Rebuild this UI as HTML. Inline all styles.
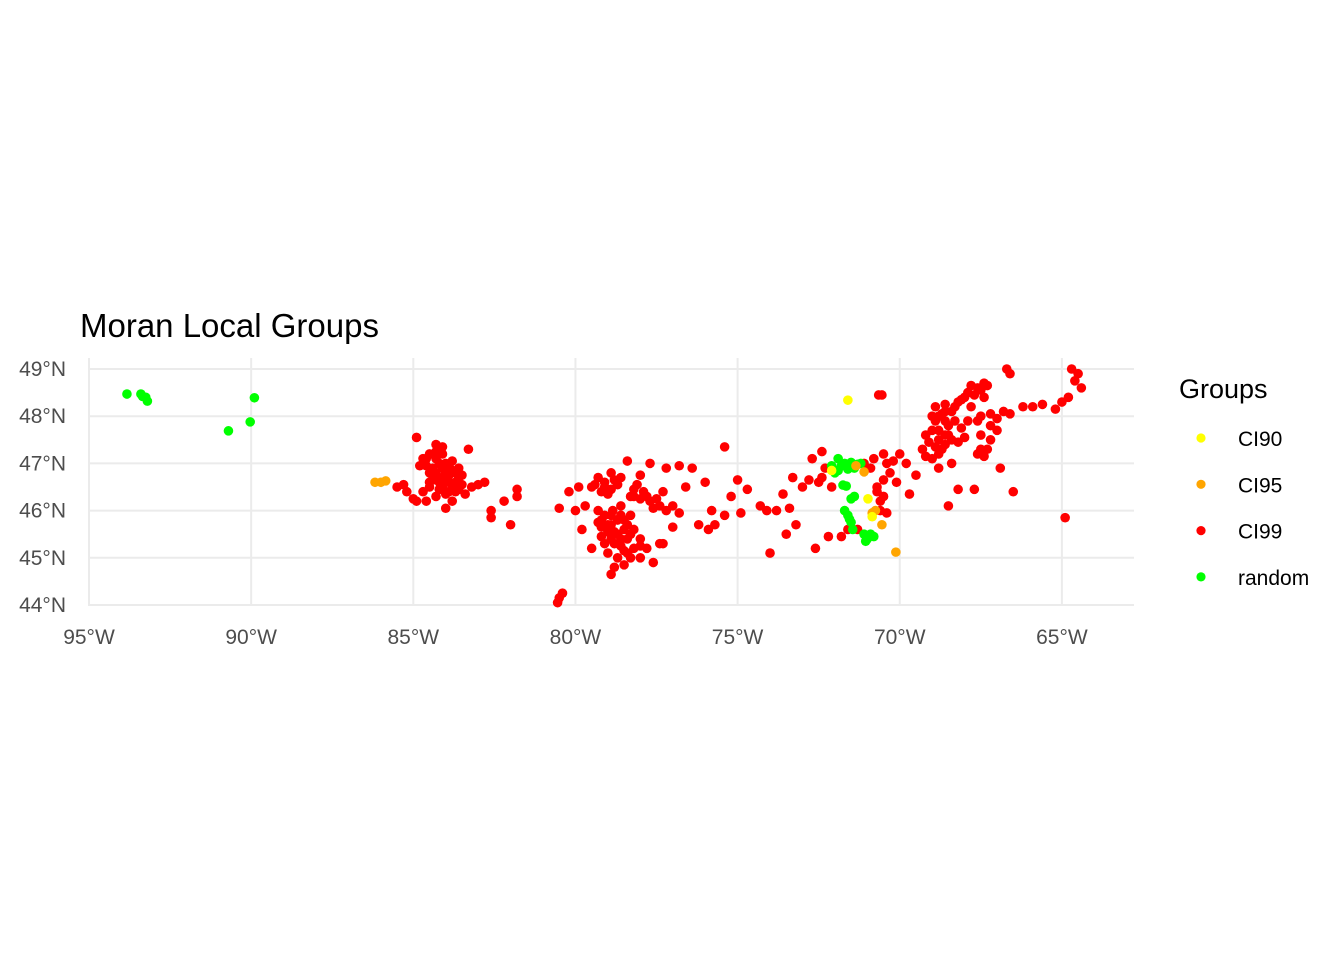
<!DOCTYPE html>
<html><head><meta charset="utf-8"><style>
body{margin:0;background:#fff;}
svg text{font-family:"Liberation Sans",Arial,sans-serif;}
</style></head><body>
<svg width="1344" height="960" xmlns="http://www.w3.org/2000/svg">
<g id="grid"></g><g id="pts"></g><g id="axes"></g>
<text x="80" y="337" font-size="33" fill="#000">Moran Local Groups</text>
<g>
<text x="1179" y="398" font-size="27" fill="#000">Groups</text>
<g id="leg"></g>
</g>
</svg>
<script>
const lonTicks=[-95,-90,-85,-80,-75,-70,-65];
const latTicks=[44,45,46,47,48,49];
const groups=["CI90","CI95","CI99","random"];
const colors=["#ffff00","#ffa500","#ff0000","#00ff00"];
const randomPts=[[-93.83,48.47],[-93.4,48.47],[-93.25,48.4],[-93.2,48.32],[-93.35,48.42],[-89.9,48.39],[-90.7,47.69],[-90.03,47.88],
[-72.1,46.95],[-71.9,47.1],[-71.7,47.0],[-71.5,47.02],[-71.3,46.98],[-71.6,46.88],[-71.9,46.85],[-71.4,46.9],[-71.2,47.0],[-72.0,46.8],[-71.8,46.95],[-71.55,46.95],
[-71.75,46.54],[-71.65,46.52],[-71.5,46.25],[-71.4,46.3],[-71.7,46.0],[-71.6,45.9],[-71.5,45.75],[-71.45,45.6],[-71.1,45.5],[-71.0,45.4],[-70.9,45.5],[-71.05,45.35],[-70.8,45.45],[-71.55,45.82]];
const ci90Pts=[[-71.6,48.34],[-70.98,46.25],[-70.85,45.87],[-72.1,46.85]];
const ci95Pts=[[-86.18,46.6],[-86.0,46.6],[-85.85,46.63],[-70.12,45.12],[-70.55,45.7],[-70.75,46.0],[-70.85,45.95],[-71.1,46.82],[-71.35,46.95]];
const ci99Pts=[[-84.9,47.55],[-84.3,47.4],[-84.1,47.35],[-83.3,47.3],[-84.6,47.1],[-84.8,46.95],[-84.4,46.9],[-84.2,47.0],[-84.0,46.8],[-83.8,46.85],[-83.6,46.7],[-83.9,46.6],[-84.1,46.5],[-84.5,46.6],[-84.7,46.4],[-84.3,46.3],[-83.7,46.4],[-83.5,46.55],[-83.2,46.5],[-83.0,46.55],[-82.8,46.6],[-83.4,46.35],[-83.8,46.2],[-84.0,46.05],[-84.6,46.2],[-85.0,46.25],[-85.2,46.4],[-85.5,46.5],[-85.3,46.55],[-82.6,46.0],[-82.6,45.85],[-82.2,46.2],[-81.8,46.45],[-81.8,46.3],[-82.0,45.7],[-84.9,46.2],[-84.2,46.7],[-83.6,46.9],[-84.5,46.8],[-83.9,46.95],[-84.2,46.6],[-83.7,46.6],
[-84.7,47.1],[-84.5,47.2],[-84.3,47.1],[-84.1,47.2],[-84.0,47.0],[-83.8,47.05],[-84.6,46.95],[-84.3,46.8],[-84.1,46.9],[-83.9,46.75],[-83.7,46.8],[-84.4,46.65],[-84.0,46.65],[-83.8,46.5],[-84.2,46.45],[-83.6,46.45],[-84.0,46.35],[-84.5,46.5],[-83.9,46.4],[-84.3,47.25],[-83.5,46.75],
[-80.5,44.15],[-80.4,44.25],[-80.55,44.05],[-78.9,44.65],[-78.8,44.8],[-78.5,44.85],[-78.3,45.0],[-78.0,45.0],[-77.6,44.9],[-77.8,45.2],[-77.4,45.3],[-77.0,45.65],[-79.8,45.6],[-79.5,45.2],[-79.2,45.45],[-79.0,45.7],[-78.7,45.5],[-78.5,45.8],[-78.9,45.9],[-78.6,46.1],[-78.2,45.6],[-78.0,45.4],[-79.3,46.0],[-79.7,46.1],[-80.0,46.0],[-80.5,46.05],[-80.2,46.4],[-79.9,46.5],[-79.5,46.5],[-79.1,46.6],[-78.7,46.55],[-78.2,46.45],[-77.8,46.3],[-77.5,46.25],[-77.3,46.4],[-77.0,46.1],[-76.8,45.95],[-76.6,46.5],[-76.4,46.9],[-76.8,46.95],[-77.2,46.9],[-77.7,47.0],[-78.0,46.75],[-78.4,47.05],[-78.9,46.8],[-78.3,46.3],[-77.6,46.05],[-76.2,45.7],[-75.9,45.6],[-75.8,46.0],[-75.4,45.9],[-75.4,47.35],[-75.0,46.65],[-74.7,46.45],[-74.9,45.95],[-75.2,46.3],[-74.3,46.1],[-74.0,45.1],[-73.5,45.5],[-73.2,45.7],[-72.6,45.2],[-72.2,45.45],[-71.8,45.45],[-74.1,46.0],[-73.8,46.0],[-73.4,46.05],[-73.0,46.5],[-73.3,46.7],[-72.7,47.1],[-72.4,47.25],[-72.8,46.65],[-73.6,46.35],[-76.0,46.6],[-75.7,45.7],[-78.8,45.3],[-78.4,45.4],[-79.0,45.1],[-78.6,45.25],[-79.2,45.8],[-78.3,45.9],
[-79.3,46.7],[-79.1,46.5],[-78.9,46.45],[-78.8,46.65],[-79.0,46.35],[-78.6,46.7],[-79.2,46.4],[-78.2,46.3],[-78.0,46.25],[-77.7,46.2],[-77.9,46.4],[-77.4,46.1],[-77.2,46.0],[-78.1,46.55],[-79.1,45.9],[-78.9,45.7],[-78.7,45.8],[-78.5,45.6],[-78.8,45.55],[-79.0,45.55],[-79.2,45.65],[-78.6,45.9],[-78.4,45.7],[-78.3,45.5],[-78.6,45.4],[-78.9,45.4],[-79.1,45.3],[-78.2,45.2],[-78.4,45.1],[-78.0,45.25],[-78.7,45.0],[-78.5,45.15],[-79.3,45.75],[-78.85,46.0],[-79.4,46.55],[-77.3,45.3],
[-72.3,46.9],[-72.5,46.6],[-72.1,46.5],[-71.1,47.0],[-70.8,47.1],[-70.5,47.2],[-70.2,47.05],[-70.0,47.2],[-70.3,46.8],[-70.7,46.5],[-70.6,46.2],[-70.4,45.95],[-70.7,46.4],[-70.1,46.6],[-69.7,46.35],[-70.55,48.45],[-70.65,48.45],[-71.3,45.6],[-71.6,45.6],[-72.4,46.7],[-70.5,46.65],[-70.6,46.0],[-70.5,46.3],[-70.9,46.9],[-70.4,47.0],
[-69.2,47.6],[-69.0,47.7],[-68.8,47.5],[-68.5,47.6],[-68.2,47.45],[-68.0,47.55],[-68.5,47.8],[-69.3,47.3],[-69.0,47.1],[-68.8,46.9],[-68.4,47.0],[-68.8,48.0],[-68.9,48.2],[-68.6,48.25],[-68.3,48.2],[-68.1,48.35],[-67.9,48.5],[-67.6,48.6],[-67.3,48.65],[-67.8,48.2],[-67.5,48.0],[-67.2,48.05],[-67.0,47.95],[-67.5,47.6],[-67.2,47.5],[-67.0,47.7],[-67.6,47.2],[-67.4,47.15],[-67.7,46.45],[-68.2,46.45],[-68.5,46.1],[-66.6,48.9],[-66.7,49.0],[-66.2,48.2],[-65.9,48.2],[-65.6,48.25],[-66.9,46.9],[-66.5,46.4],[-65.2,48.15],[-65.0,48.3],[-64.8,48.4],[-64.7,49.0],[-64.5,48.9],[-64.4,48.6],[-64.6,48.75],[-64.9,45.85],[-69.5,46.75],[-69.8,47.0],[-67.9,47.9],[-68.1,47.75],[-68.7,47.3],[-68.6,48.1],[-67.4,48.4],
[-69.0,48.0],[-68.7,48.05],[-68.4,48.1],[-68.2,48.3],[-68.0,48.4],[-67.7,48.45],[-67.5,48.55],[-67.8,48.65],[-67.4,48.7],[-68.9,47.9],[-68.6,47.9],[-68.3,47.9],[-68.8,47.7],[-68.6,47.6],[-68.4,47.5],[-68.9,47.35],[-68.6,47.4],[-69.1,47.45],[-67.3,47.3],[-67.5,47.3],[-67.2,47.8],[-66.8,48.1],[-66.6,48.05],[-67.6,47.9],[-68.8,47.2],[-69.2,47.15]];
const X0=89,PXLON=32.43,Y0=369,PXLAT=47.2;
function xs(lon){return X0+(lon+95)*PXLON;}
function ys(lat){return Y0+(49-lat)*PXLAT;}
const NS="http://www.w3.org/2000/svg";
function mk(t,a,p){const e=document.createElementNS(NS,t);for(const k in a)e.setAttribute(k,a[k]);p.appendChild(e);return e;}
const grid=document.getElementById('grid'),axes=document.getElementById('axes'),pts=document.getElementById('pts'),leg=document.getElementById('leg');
lonTicks.forEach(v=>{const x=xs(v);
 const l=mk('line',{x1:x,x2:x,y1:358,y2:606,stroke:'#ebebeb','stroke-width':2},grid);
 
 const t=mk('text',{x:x,y:644,'font-size':21,fill:'#4d4d4d','text-anchor':'middle'},axes);t.textContent=(-v)+'°W';
 });
latTicks.forEach(v=>{const y=ys(v);
 const l=mk('line',{x1:88,x2:1134,y1:y,y2:y,stroke:'#ebebeb','stroke-width':2},grid);
 
 const t=mk('text',{x:66,y:y+7,'font-size':21,fill:'#4d4d4d','text-anchor':'end'},axes);t.textContent=v+'°N';
 });
function draw(arr,c,name){arr.forEach(p=>{const e=mk('circle',{cx:xs(p[0]),cy:ys(p[1]),r:4.8,fill:c},pts);
 });}
draw(ci99Pts,colors[2],'point-ci99');draw(randomPts,colors[3],'point-random');
draw(ci95Pts,colors[1],'point-ci95');draw(ci90Pts,colors[0],'point-ci90');
groups.forEach((g,i)=>{const y=438+i*46.3;
 const c=mk('circle',{cx:1201,cy:y,r:4.6,fill:colors[i]},leg);
 
 const t=mk('text',{x:1238,y:y+8,'font-size':21,fill:'#000'},leg);t.textContent=g;
 });
</script>
</body></html>
